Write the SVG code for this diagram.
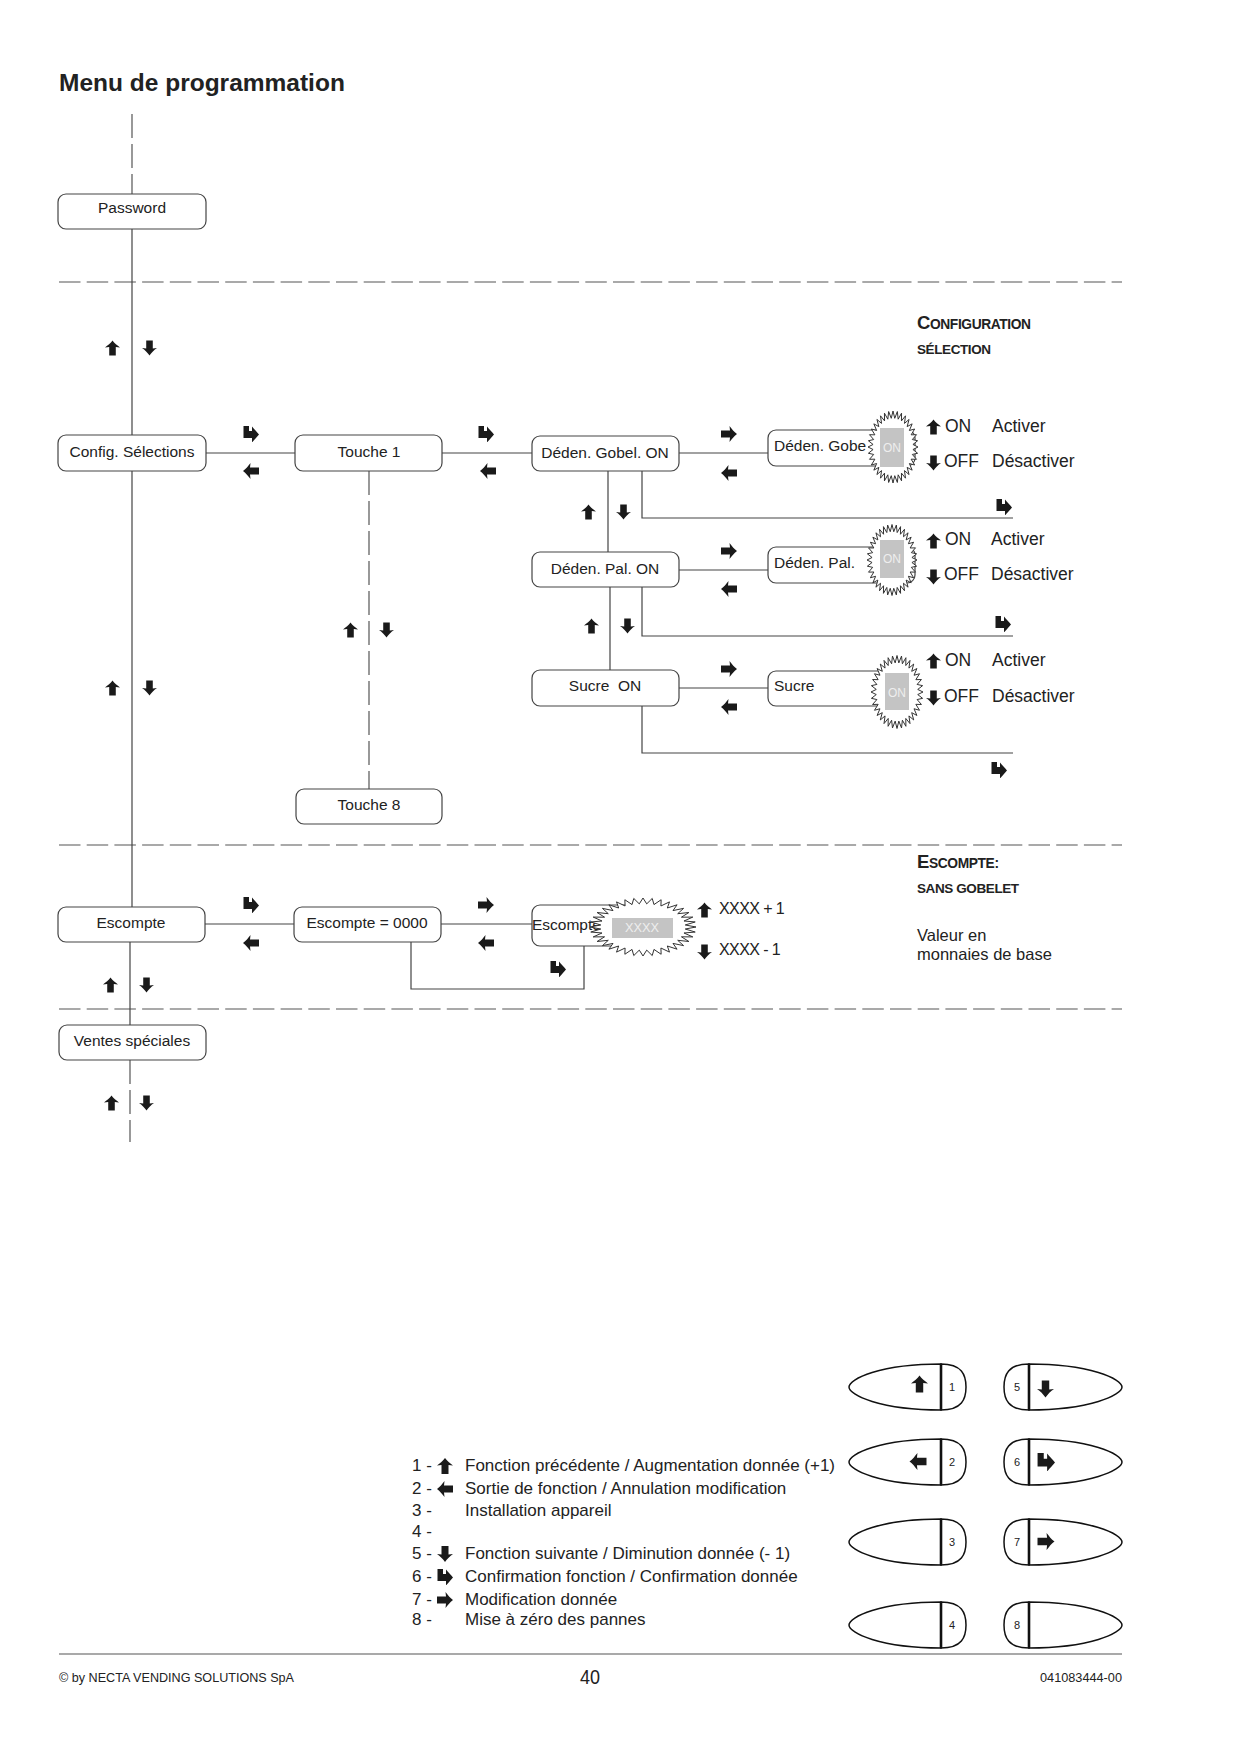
<svg xmlns="http://www.w3.org/2000/svg" xmlns:xlink="http://www.w3.org/1999/xlink" width="1240" height="1755" viewBox="0 0 1240 1755">
<style>
text{font-family:"Liberation Sans",Arial,sans-serif;fill:#222}
.box{fill:#fff;stroke:#444;stroke-width:1.2}
.lbl{font-size:15.5px;text-anchor:middle}
.lbll{font-size:15.5px}
.ln{stroke:#444;stroke-width:1.2;fill:none}
.dash{stroke:#555;stroke-width:1.2;fill:none;stroke-dasharray:21.5 6.2}
.vdash{stroke:#555;stroke-width:1.2;fill:none;stroke-dasharray:24 6}
.ic{fill:#1a1a1a}
.desc{font-size:17.5px}
.leg{font-size:17px}
.grey{fill:#c4c4c4}
.on{font-size:12px;fill:#eee;text-anchor:middle}
.hd{font-weight:bold;letter-spacing:-0.4px}
.key{fill:#fff;stroke:#111;stroke-width:1.5}
.sep{stroke:#111;stroke-width:2.6}
.num{font-size:11px;text-anchor:middle}
</style>
<defs>
<symbol id="aU" viewBox="0 0 16 16"><path d="M8 0 C10 3 13 5 16 7.5 L11.5 7 L11.5 16 L4.5 16 L4.5 7 L0 7.5 C3 5 6 3 8 0 Z"/></symbol>
<symbol id="aD" viewBox="0 0 16 16"><path d="M4.5 0 L11.5 0 L11.5 8.5 L16 8 C13 10 10 13 8 16 C6 13 3 10 0 8 L4.5 8.5 Z"/></symbol>
<symbol id="aL" viewBox="0 0 16 16"><path d="M0 8 C3 6 5 3 7.5 0 L7 4.5 L16 4.5 L16 11.5 L7 11.5 L7.5 16 C5 13 3 10 0 8 Z"/></symbol>
<symbol id="aR" viewBox="0 0 16 16"><path d="M16 8 C13 6 11 3 8.5 0 L9 4.5 L0 4.5 L0 11.5 L9 11.5 L8.5 16 C11 13 13 10 16 8 Z"/></symbol>
<symbol id="aC" viewBox="0 0 16 16"><path d="M0.5 0 L6 0 L6 5 L9 5 L9 0.5 C11 3 14 6 16 8.5 C14 11 11 14 9 16.5 L9 12 L0.5 12 Z"/></symbol>
<polygon id="burst" fill="#fff" stroke="#333" stroke-width="1" vector-effect="non-scaling-stroke" points="100,0 79.7,7 98.5,17.4 77.3,20.7 94,34.2 72.5,33.8 86.6,50 65.5,45.9 76.6,64.3 56.6,56.6 64.3,76.6 45.9,65.5 50,86.6 33.8,72.5 34.2,94 20.7,77.3 17.4,98.5 7,79.7 0,100 -7,79.7 -17.4,98.5 -20.7,77.3 -34.2,94 -33.8,72.5 -50,86.6 -45.9,65.5 -64.3,76.6 -56.6,56.6 -76.6,64.3 -65.5,45.9 -86.6,50 -72.5,33.8 -94,34.2 -77.3,20.7 -98.5,17.4 -79.7,7 -100,0 -79.7,-7 -98.5,-17.4 -77.3,-20.7 -94,-34.2 -72.5,-33.8 -86.6,-50 -65.5,-45.9 -76.6,-64.3 -56.6,-56.6 -64.3,-76.6 -45.9,-65.5 -50,-86.6 -33.8,-72.5 -34.2,-94 -20.7,-77.3 -17.4,-98.5 -7,-79.7 0,-100 7,-79.7 17.4,-98.5 20.7,-77.3 34.2,-94 33.8,-72.5 50,-86.6 45.9,-65.5 64.3,-76.6 56.6,-56.6 76.6,-64.3 65.5,-45.9 86.6,-50 72.5,-33.8 94,-34.2 77.3,-20.7 98.5,-17.4 79.7,-7"/>
<g id="keyL">
<path class="key" d="M941,-23 C880,-23 849,-8 849,0 C849,8 880,23 941,23 Z"/>
<path class="key" d="M941,-23 C962,-23 966,-12 966,0 C966,12 962,23 941,23 Z"/>
<line class="sep" x1="941" y1="-23" x2="941" y2="23"/>
</g>
<g id="keyR">
<path class="key" d="M1029,-23 C1090,-23 1122,-8 1122,0 C1122,8 1090,23 1029,23 Z"/>
<path class="key" d="M1029,-23 C1008,-23 1004,-12 1004,0 C1004,12 1008,23 1029,23 Z"/>
<line class="sep" x1="1029" y1="-23" x2="1029" y2="23"/>
</g>
</defs>
<rect width="1240" height="1755" fill="#fff"/>

<text x="59" y="91" font-size="24.5" font-weight="bold" fill="#1a1a1a">Menu de programmation</text>

<g id="separators">
<line class="dash" x1="59" y1="282" x2="1122" y2="282"/>
<line class="dash" x1="59" y1="845" x2="1122" y2="845"/>
<line class="dash" x1="59" y1="1009" x2="1122" y2="1009"/>
</g>

<g id="connectors">
<line class="vdash" x1="132" y1="114" x2="132" y2="194"/>
<line class="ln" x1="132" y1="229" x2="132" y2="435"/>
<line class="ln" x1="132" y1="471" x2="132" y2="907"/>
<line class="ln" x1="130" y1="942" x2="130" y2="1025"/>
<line class="vdash" x1="130" y1="1060" x2="130" y2="1142"/>
<line class="ln" x1="206" y1="453" x2="295" y2="453"/>
<line class="ln" x1="442" y1="453" x2="532" y2="453"/>
<line class="ln" x1="679" y1="453" x2="768" y2="453"/>
<line class="vdash" x1="369" y1="471" x2="369" y2="789"/>
<line class="ln" x1="608" y1="471" x2="608" y2="552"/>
<polyline class="ln" points="642,471 642,518 1013,518"/>
<line class="ln" x1="679" y1="570" x2="768" y2="570"/>
<line class="ln" x1="610" y1="587" x2="610" y2="670"/>
<polyline class="ln" points="642,587 642,636 1013,636"/>
<line class="ln" x1="679" y1="688" x2="768" y2="688"/>
<polyline class="ln" points="642,706 642,753 1013,753"/>
<line class="ln" x1="205" y1="924" x2="294" y2="924"/>
<line class="ln" x1="441" y1="924" x2="532" y2="924"/>
<polyline class="ln" points="411,942 411,989 584,989 584,946"/>
</g>

<g id="arrows" class="ic">
<use href="#aU" x="105" y="340" width="15" height="16"/>
<use href="#aD" x="142" y="340" width="15" height="16"/>
<use href="#aU" x="105" y="680" width="15" height="16"/>
<use href="#aD" x="142" y="680" width="15" height="16"/>
<use href="#aU" x="103" y="977" width="15" height="16"/>
<use href="#aD" x="139" y="977" width="15" height="16"/>
<use href="#aU" x="104" y="1095" width="15" height="16"/>
<use href="#aD" x="139" y="1095" width="15" height="16"/>
<use href="#aU" x="343" y="622" width="15" height="16"/>
<use href="#aD" x="379" y="622" width="15" height="16"/>
<use href="#aC" x="243" y="426" width="16" height="16"/>
<use href="#aL" x="243" y="463" width="16" height="16"/>
<use href="#aC" x="478" y="426" width="16" height="16"/>
<use href="#aL" x="480" y="463" width="16" height="16"/>
<use href="#aR" x="721" y="426" width="16" height="16"/>
<use href="#aL" x="721" y="465" width="16" height="16"/>
<use href="#aU" x="581" y="504" width="15" height="16"/>
<use href="#aD" x="616" y="504" width="15" height="16"/>
<use href="#aC" x="996" y="499" width="16" height="16"/>
<use href="#aR" x="721" y="543" width="16" height="16"/>
<use href="#aL" x="721" y="581" width="16" height="16"/>
<use href="#aU" x="584" y="618" width="15" height="16"/>
<use href="#aD" x="620" y="618" width="15" height="16"/>
<use href="#aC" x="995" y="616" width="16" height="16"/>
<use href="#aR" x="721" y="661" width="16" height="16"/>
<use href="#aL" x="721" y="699" width="16" height="16"/>
<use href="#aC" x="991" y="762" width="16" height="16"/>
<use href="#aC" x="243" y="897" width="16" height="16"/>
<use href="#aL" x="243" y="935" width="16" height="16"/>
<use href="#aR" x="478" y="897" width="16" height="16"/>
<use href="#aL" x="478" y="935" width="16" height="16"/>
<use href="#aC" x="550" y="961" width="16" height="16"/>
</g>

<g id="n-password"><rect class="box" x="58" y="194" width="148" height="35" rx="8"/><text class="lbl" x="132" y="213">Password</text></g>
<g id="n-config"><rect class="box" x="58" y="435" width="148" height="36" rx="8"/><text class="lbl" x="132" y="457">Config. Sélections</text></g>
<g id="n-touche1"><rect class="box" x="295" y="435" width="147" height="36" rx="8"/><text class="lbl" x="369" y="457">Touche 1</text></g>
<g id="n-deden-gobel-on"><rect class="box" x="532" y="436" width="147" height="35" rx="8"/><text class="lbl" x="605" y="458">Déden. Gobel. ON</text></g>
<g id="n-deden-gobe">
<rect class="box" x="768" y="430" width="147" height="36" rx="8"/>
<text class="lbll" x="774" y="451">Déden. Gobe</text>
<use href="#burst" transform="translate(893 447) scale(0.25 0.36)"/>
<rect class="grey" x="880" y="428" width="24" height="39"/>
<text class="on" x="892" y="452">ON</text>
</g>
<g id="n-deden-pal-on"><rect class="box" x="532" y="552" width="147" height="35" rx="8"/><text class="lbl" x="605" y="574">Déden. Pal. ON</text></g>
<g id="n-deden-pal">
<rect class="box" x="768" y="547" width="147" height="36" rx="8"/>
<text class="lbll" x="774" y="568">Déden. Pal.</text>
<use href="#burst" transform="translate(892 560) scale(0.25 0.355)"/>
<rect class="grey" x="880" y="540" width="24" height="38"/>
<text class="on" x="892" y="563">ON</text>
</g>
<g id="n-sucre-on"><rect class="box" x="532" y="670" width="147" height="36" rx="8"/><text class="lbl" x="605" y="691" xml:space="preserve">Sucre  ON</text></g>
<g id="n-sucre">
<rect class="box" x="768" y="671" width="147" height="35" rx="8"/>
<text class="lbll" x="774" y="691">Sucre</text>
<use href="#burst" transform="translate(897 692) scale(0.26 0.365)"/>
<rect class="grey" x="885" y="673" width="24" height="37"/>
<text class="on" x="897" y="697">ON</text>
</g>
<g id="n-touche8"><rect class="box" x="296" y="789" width="146" height="35" rx="8"/><text class="lbl" x="369" y="810">Touche 8</text></g>
<g id="n-escompte"><rect class="box" x="58" y="907" width="147" height="35" rx="8"/><text class="lbl" x="131" y="928">Escompte</text></g>
<g id="n-escompte-0000"><rect class="box" x="294" y="907" width="147" height="35" rx="8"/><text class="lbl" x="367" y="928">Escompte = 0000</text></g>
<g id="n-escompte-edit">
<rect class="box" x="532" y="905" width="120" height="41" rx="8"/>
<text class="lbll" x="532" y="930">Escompte</text>
<use href="#burst" transform="translate(643 927) scale(0.53 0.29)"/>
<rect class="grey" x="612" y="918" width="61" height="20"/>
<text class="on" x="642" y="932" font-size="11" textLength="34" lengthAdjust="spacingAndGlyphs">XXXX</text>
</g>
<g id="n-ventes"><rect class="box" x="59" y="1025" width="147" height="35" rx="8"/><text class="lbl" x="132" y="1046">Ventes spéciales</text></g>

<g id="options" class="ic">
<use href="#aU" x="926" y="419" width="15" height="16"/>
<text class="desc" x="945" y="432">ON</text><text class="desc" x="992" y="432">Activer</text>
<use href="#aD" x="926" y="455" width="15" height="16"/>
<text class="desc" x="944" y="467">OFF</text><text class="desc" x="992" y="467">Désactiver</text>
<use href="#aU" x="926" y="533" width="15" height="16"/>
<text class="desc" x="945" y="545">ON</text><text class="desc" x="991" y="545">Activer</text>
<use href="#aD" x="926" y="569" width="15" height="16"/>
<text class="desc" x="944" y="580">OFF</text><text class="desc" x="991" y="580">Désactiver</text>
<use href="#aU" x="926" y="653" width="15" height="16"/>
<text class="desc" x="945" y="666">ON</text><text class="desc" x="992" y="666">Activer</text>
<use href="#aD" x="926" y="690" width="15" height="16"/>
<text class="desc" x="944" y="702">OFF</text><text class="desc" x="992" y="702">Désactiver</text>
<use href="#aU" x="697" y="902" width="15" height="16"/>
<text x="719" y="914" font-size="16" letter-spacing="-0.6">XXXX + 1</text>
<use href="#aD" x="697" y="944" width="15" height="16"/>
<text x="719" y="955" font-size="16" letter-spacing="-0.6">XXXX - 1</text>
</g>

<g id="headers">
<text class="hd" x="917" y="329"><tspan font-size="18.5">C</tspan><tspan font-size="13.8">ONFIGURATION</tspan></text>
<text class="hd" x="917" y="354" font-size="13.5">SÉLECTION</text>
<text class="hd" x="917" y="868"><tspan font-size="18.5">E</tspan><tspan font-size="13.8">SCOMPTE:</tspan></text>
<text class="hd" x="917" y="893" font-size="13.5">SANS GOBELET</text>
<text x="917" y="941" font-size="16.5">Valeur en</text>
<text x="917" y="960" font-size="16.5">monnaies de base</text>
</g>

<g id="legend">
<text class="leg" x="412" y="1471">1 -</text><use class="ic" href="#aU" x="437" y="1458" width="16" height="16"/><text class="leg" x="465" y="1471">Fonction précédente / Augmentation donnée (+1)</text>
<text class="leg" x="412" y="1494">2 -</text><use class="ic" href="#aL" x="437" y="1481" width="16" height="16"/><text class="leg" x="465" y="1494">Sortie de fonction / Annulation modification</text>
<text class="leg" x="412" y="1516">3 -</text><text class="leg" x="465" y="1516">Installation appareil</text>
<text class="leg" x="412" y="1537">4 -</text>
<text class="leg" x="412" y="1559">5 -</text><use class="ic" href="#aD" x="437" y="1546" width="16" height="16"/><text class="leg" x="465" y="1559">Fonction suivante / Diminution donnée (- 1)</text>
<text class="leg" x="412" y="1582">6 -</text><use class="ic" href="#aC" x="437" y="1569" width="16" height="16"/><text class="leg" x="465" y="1582">Confirmation fonction / Confirmation donnée</text>
<text class="leg" x="412" y="1605">7 -</text><use class="ic" href="#aR" x="437" y="1592" width="16" height="16"/><text class="leg" x="465" y="1605">Modification donnée</text>
<text class="leg" x="412" y="1625">8 -</text><text class="leg" x="465" y="1625">Mise à zéro des pannes</text>
</g>

<g id="keypad">
<g id="key1"><use href="#keyL" y="1387"/><use class="ic" href="#aU" x="911" y="1375" width="17" height="18"/><text class="num" x="952" y="1391">1</text></g>
<g id="key2"><use href="#keyL" y="1462"/><use class="ic" href="#aL" x="909" y="1453" width="18" height="17"/><text class="num" x="952" y="1466">2</text></g>
<g id="key3"><use href="#keyL" y="1542"/><text class="num" x="952" y="1546">3</text></g>
<g id="key4"><use href="#keyL" y="1625"/><text class="num" x="952" y="1629">4</text></g>
<g id="key5"><use href="#keyR" y="1387"/><use class="ic" href="#aD" x="1037" y="1380" width="17" height="18"/><text class="num" x="1017" y="1391">5</text></g>
<g id="key6"><use href="#keyR" y="1462"/><use class="ic" href="#aC" x="1037" y="1453" width="18" height="18"/><text class="num" x="1017" y="1466">6</text></g>
<g id="key7"><use href="#keyR" y="1542"/><use class="ic" href="#aR" x="1037" y="1533" width="18" height="17"/><text class="num" x="1017" y="1546">7</text></g>
<g id="key8"><use href="#keyR" y="1625"/><text class="num" x="1017" y="1629">8</text></g>
</g>

<g id="footer">
<line x1="59" y1="1654" x2="1122" y2="1654" stroke="#555" stroke-width="1.2"/>
<text x="59" y="1682" font-size="13.5" textLength="235" lengthAdjust="spacingAndGlyphs">© by NECTA VENDING SOLUTIONS SpA</text>
<text x="590" y="1684" font-size="21" text-anchor="middle" textLength="20" lengthAdjust="spacingAndGlyphs">40</text>
<text x="1122" y="1682" font-size="13.5" text-anchor="end" textLength="82" lengthAdjust="spacingAndGlyphs">041083444-00</text>
</g>
</svg>
